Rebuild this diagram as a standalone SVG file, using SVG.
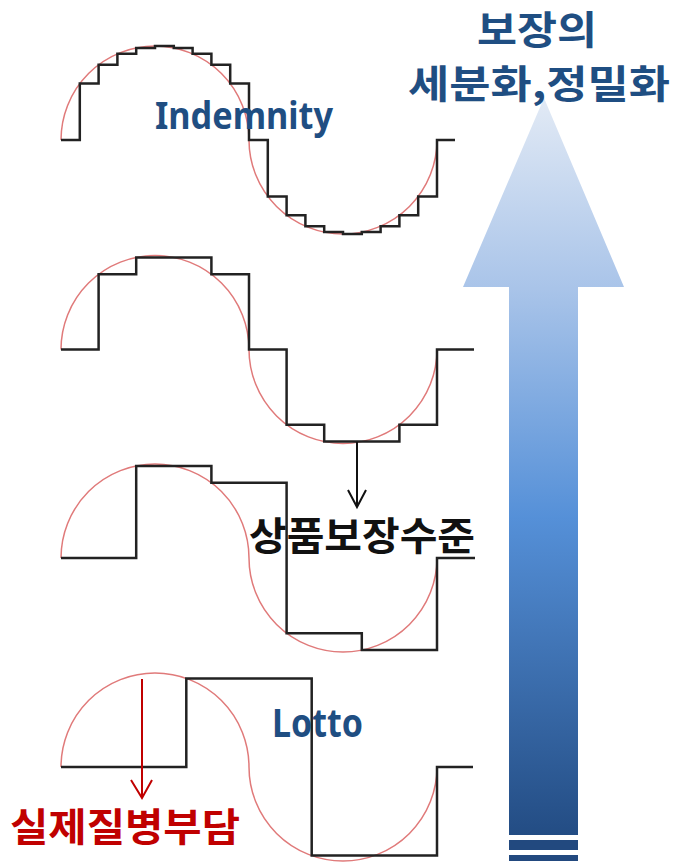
<svg xmlns="http://www.w3.org/2000/svg" width="673" height="865" viewBox="0 0 673 865">
<defs>
<linearGradient id="ag" x1="0" y1="98" x2="0" y2="861" gradientUnits="userSpaceOnUse">
<stop offset="0" stop-color="#e2eaf5"/>
<stop offset="0.25" stop-color="#a9c4e9"/>
<stop offset="0.55" stop-color="#5590d8"/>
<stop offset="1" stop-color="#1f477d"/>
</linearGradient>
<style>
.curve{fill:none;stroke:#e07a7a;stroke-width:1.5}
.step{fill:none;stroke:#222;stroke-width:2.5;stroke-linejoin:miter}
.ko{font-family:"Noto Sans CJK KR","Noto Sans",sans-serif;font-weight:bold}
.en{font-family:"Noto Sans","Noto Sans CJK KR",sans-serif;font-weight:bold;fill:#1f4e82}
.blue{fill:#1f4e82}
</style>
</defs>
<rect width="673" height="865" fill="#ffffff"/>

<g id="big-arrow">
<polygon points="544,98 624,287 578,287 578,835 509,835 509,287 463,287" fill="url(#ag)"/>
<rect x="509" y="840" width="69" height="10" fill="#22497f"/>
<rect x="509" y="855" width="69" height="6" fill="#22497f"/>
</g>

<g id="title">
<text class="ko blue" x="477" y="44" font-size="39" textLength="120" lengthAdjust="spacingAndGlyphs">보장의</text>
<text class="ko blue" x="408" y="98" font-size="39" textLength="262" lengthAdjust="spacingAndGlyphs">세분화,정밀화</text>
</g>

<g id="wave-indemnity">
<path class="curve" d="M61,140 A94,94 0 0 1 249,140 A94,94 0 0 0 437,140"/>
<path class="step" d="M61,140 H79.8 V83.6 H98.6 V64.8 H117.4 V53.8 H136.2 V47.9 H155 V46 H173.8 V47.9 H192.6 V53.8 H211.4 V64.8 H230.2 V83.6 H249 V140 H267.8 V196.4 H286.6 V215.2 H305.4 V226.2 H324.2 V232.1 H343 V234 H361.8 V232.1 H380.6 V226.2 H399.4 V215.2 H418.2 V196.4 H437 V140 H455"/>
<text class="en" x="155" y="129" font-size="38" textLength="178" lengthAdjust="spacingAndGlyphs">Indemnity</text>
</g>

<g id="wave-2">
<path class="curve" d="M61,349.5 A94,94 0 0 1 249,349.5 A94,94 0 0 0 437,349.5"/>
<path class="step" d="M61,349.5 H98.6 V274.3 H136.2 V257.4 H211.4 V274.3 H249 V349.5 H286.6 V424.7 H324.2 V441.6 H399.4 V424.7 H437 V349.5 H474"/>
</g>

<g id="wave-3">
<path class="curve" d="M61,558 A94,94 0 0 1 249,558 A94,94 0 0 0 437,558"/>
<path class="step" d="M61,558 H136.2 V465.9 H211.4 V482.8 H286.6 V633.2 H361.8 V650.1 H437 V558 H475"/>
<text class="ko" x="249" y="550" font-size="39" fill="#111" textLength="226" lengthAdjust="spacingAndGlyphs">상품보장수준</text>
</g>

<g id="wave-lotto">
<path class="curve" d="M61,767 A94,94 0 0 1 249,767 A94,94 0 0 0 437,767"/>
<path class="step" d="M61,767 H186.3 V678.4 H311.7 V855.6 H437 V767 H473"/>
<text class="en" x="272" y="737" font-size="39" textLength="91" lengthAdjust="spacingAndGlyphs">Lotto</text>
<text class="ko" x="10" y="841" font-size="39" fill="#c00000" textLength="230" lengthAdjust="spacingAndGlyphs">실제질병부담</text>
</g>

<g id="connectors">
<g fill="none" stroke="#111" stroke-width="2">
<line x1="357" y1="442" x2="357" y2="507"/>
<polyline points="348,490 357,507 366,490"/>
</g>
<g fill="none" stroke="#c00000" stroke-width="2">
<line x1="142" y1="679" x2="142" y2="798"/>
<polyline points="131,780 142,798 152,780"/>
</g>
</g>
</svg>
